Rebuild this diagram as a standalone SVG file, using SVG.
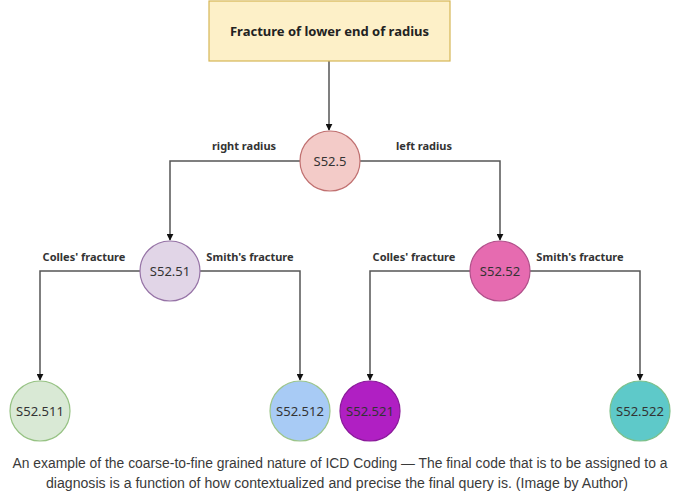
<svg xmlns="http://www.w3.org/2000/svg" width="680" height="491" viewBox="0 0 680 491">
<style>
.n{font-family:"Noto Sans","Open Sans",sans-serif;font-size:13px;fill:#333;text-anchor:middle;dominant-baseline:central}
.t{font-family:"Noto Sans","Open Sans",sans-serif;font-size:13px;font-weight:bold;fill:#222;text-anchor:middle;dominant-baseline:central}
.e{font-family:"Noto Sans","Open Sans",sans-serif;font-size:11px;font-weight:bold;fill:#333;text-anchor:middle;dominant-baseline:central}
.c{font-family:"Liberation Sans",Arial,sans-serif;font-size:14px;fill:#3a3a3a;text-anchor:middle}
.l{fill:none;stroke:#555;stroke-width:1.5;marker-end:url(#a)}
</style>
<defs>
<marker id="a" viewBox="0 0 10 10" refX="9" refY="5" markerWidth="7" markerHeight="7" markerUnits="userSpaceOnUse" orient="auto">
<path d="M0,0 L10,5 L0,10 Z" fill="#111"/>
</marker>
</defs>
<rect width="680" height="491" fill="#fff"/>
<g id="connectors">
<path class="l" d="M329,61 V130"/>
<path class="l" d="M300,161 H170 V240"/>
<path class="l" d="M360,161 H500 V240"/>
<path class="l" d="M140,271 H40 V380"/>
<path class="l" d="M200,271 H300 V380"/>
<path class="l" d="M470,271 H370 V380"/>
<path class="l" d="M530,271 H640 V380"/>
<text class="e" x="244" y="145">right radius</text>
<text class="e" x="424" y="145">left radius</text>
<text class="e" x="84" y="256">Colles' fracture</text>
<text class="e" x="250" y="256">Smith's fracture</text>
<text class="e" x="414" y="256">Colles' fracture</text>
<text class="e" x="580" y="256">Smith's fracture</text>
</g>
<g id="root">
<rect x="209" y="1" width="241" height="60" fill="#fdf0c8" stroke="#d6b656" stroke-width="1.2"/>
<text class="t" x="329.5" y="31">Fracture of lower end of radius</text>
</g>
<g id="s525">
<circle cx="330" cy="161" r="30" fill="#f3cbc8" stroke="#c07070" stroke-width="1.2"/>
<text class="n" x="330" y="161">S52.5</text>
</g>
<g id="s5251">
<circle cx="170" cy="271" r="30" fill="#e1d5e7" stroke="#9673a6" stroke-width="1.2"/>
<text class="n" x="170" y="271">S52.51</text>
</g>
<g id="s5252">
<circle cx="500" cy="271" r="30" fill="#e66bb0" stroke="#b0508a" stroke-width="1.2"/>
<text class="n" x="500" y="271">S52.52</text>
</g>
<g id="s52511">
<circle cx="40" cy="411" r="30" fill="#d9e9d5" stroke="#96c283" stroke-width="1.2"/>
<text class="n" x="40" y="411">S52.511</text>
</g>
<g id="s52512">
<circle cx="300" cy="411" r="30" fill="#a8cbf5" stroke="#9cc58a" stroke-width="1.2"/>
<text class="n" x="300" y="411">S52.512</text>
</g>
<g id="s52521">
<circle cx="370" cy="411" r="30" fill="#b01fc3" stroke="#8a1a9a" stroke-width="1.2"/>
<text class="n" x="370" y="411">S52.521</text>
</g>
<g id="s52522">
<circle cx="640" cy="411" r="30" fill="#5ec9c9" stroke="#7cc08a" stroke-width="1.2"/>
<text class="n" x="640" y="411">S52.522</text>
</g>
<g id="caption">
<text class="c" x="340" y="468" textLength="655" lengthAdjust="spacingAndGlyphs">An example of the coarse-to-fine grained nature of ICD Coding — The final code that is to be assigned to a</text>
<text class="c" x="337" y="488" textLength="582" lengthAdjust="spacingAndGlyphs">diagnosis is a function of how contextualized and precise the final query is. (Image by Author)</text>
</g>
</svg>
